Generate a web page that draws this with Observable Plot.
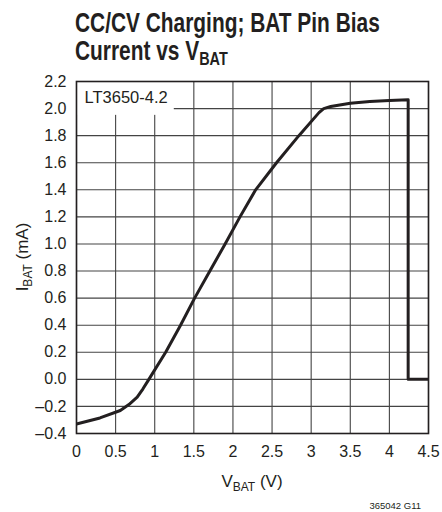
<!DOCTYPE html>
<html><head><meta charset="utf-8">
<script src="https://cdn.jsdelivr.net/npm/d3@7"></script>
<script src="https://cdn.jsdelivr.net/npm/@observablehq/plot@0.6"></script>
<style>body{margin:0;background:#fff} #chart{position:relative;width:442px;height:512px}</style>
</head><body><div id="chart"></div>
<script>
const xTicks = [0, 0.5, 1, 1.5, 2, 2.5, 3, 3.5, 4, 4.5];
const yTicks = [-0.4, -0.2, 0, 0.2, 0.4, 0.6, 0.8, 1.0, 1.2, 1.4, 1.6, 1.8, 2.0, 2.2];
const vbat = [0, 0.3, 0.56, 0.67, 0.776, 0.85, 0.925, 1.14, 1.33, 1.51, 1.705, 1.90, 2.09, 2.29, 2.557, 2.843, 3.10, 3.16, 3.25, 3.5, 3.75, 4.0, 4.24, 4.24, 4.5];
const ibat = [-0.33, -0.285, -0.23, -0.186, -0.132, -0.07, 0.0, 0.2, 0.4, 0.6, 0.8, 1.0, 1.2, 1.4, 1.6, 1.8, 1.97, 2.0, 2.015, 2.04, 2.052, 2.06, 2.065, 0.0, 0.0];
const partLabel = "LT3650-4.2";
const labelBoxX = [0, 1.25];
const labelBoxY = [1.95, 2.2];
const titleLine1 = "CC/CV Charging; BAT Pin Bias";
const titleLine2 = ["Current vs V", "BAT"];
const xLabel = ["V", "BAT", " (V)"];
const yLabel = ["I", "BAT", " (mA)"];
const caption = "365042 G11";

const data = vbat.map((v, k) => ({v, i: ibat[k]}));
const FONT = '"Liberation Sans", Arial, sans-serif';
const INK = "#231f20";
const fmtY = d => (d < 0 ? "\u2013" : "") + Math.abs(d).toFixed(1);
const fmtX = d => String(d);

const plot = Plot.plot({
  width: 442, height: 512,
  marginTop: 81, marginBottom: 79, marginLeft: 76, marginRight: 14,
  style: {fontFamily: FONT, fontSize: "16px", color: INK, background: "#fff"},
  x: {domain: [0, 4.5]},
  y: {domain: [-0.4, 2.2]},
  marks: [
    Plot.gridX(xTicks, {stroke: "#444", strokeOpacity: 1, strokeWidth: 1.1}),
    Plot.gridY(yTicks, {stroke: "#444", strokeOpacity: 1, strokeWidth: 1.1}),
    Plot.rect([0], {x1: () => labelBoxX[0], x2: () => labelBoxX[1], y1: () => labelBoxY[0], y2: () => labelBoxY[1], fill: "white"}),
    Plot.text([partLabel], {frameAnchor: "top-left", text: d => d, dx: 8, dy: 10, lineAnchor: "top", textAnchor: "start", fontSize: 16.5, fill: INK}),
    Plot.frame({stroke: INK, strokeWidth: 1.6}),
    Plot.axisX(xTicks, {tickSize: 0, tickPadding: 12, tickFormat: fmtX, label: null, fontSize: 16, fill: INK}),
    Plot.axisY(yTicks, {tickSize: 0, tickPadding: 10, tickFormat: fmtY, label: null, fontSize: 16, fill: INK}),
    Plot.line(data, {x: "v", y: "i", stroke: INK, strokeWidth: 3, strokeLinejoin: "round", strokeLinecap: "butt"})
  ]
});
document.getElementById("chart").appendChild(plot);

const svg = d3.select(plot);
// Title
const t1 = svg.append("text").attr("transform", "translate(75,32) scale(0.76,1)")
  .attr("text-anchor", "start")
  .attr("font-family", FONT).attr("font-weight", "bold").attr("font-size", 27.5).attr("fill", INK)
  .text(titleLine1);
const t2 = svg.append("text").attr("transform", "translate(75,60) scale(0.76,1)")
  .attr("text-anchor", "start")
  .attr("font-family", FONT).attr("font-weight", "bold").attr("font-size", 27.5).attr("fill", INK);
t2.append("tspan").text(titleLine2[0]);
t2.append("tspan").attr("font-size", 19).attr("dy", 5).text(titleLine2[1]);

// X axis label
const xl = svg.append("text").attr("x", 252).attr("y", 487).attr("text-anchor", "middle")
  .attr("font-family", FONT).attr("font-size", 17).attr("fill", INK);
xl.append("tspan").text(xLabel[0]);
xl.append("tspan").attr("font-size", 12).attr("dy", 4).text(xLabel[1]);
xl.append("tspan").attr("dy", -4).text(xLabel[2]);

// Y axis label
const yl = svg.append("text").attr("transform", "translate(28,257) rotate(-90)").attr("text-anchor", "middle")
  .attr("font-family", FONT).attr("font-size", 17).attr("fill", INK);
yl.append("tspan").text(yLabel[0]);
yl.append("tspan").attr("font-size", 12).attr("dy", 4).text(yLabel[1]);
yl.append("tspan").attr("dy", -4).text(yLabel[2]);

// Caption
svg.append("text").attr("x", 421).attr("y", 509).attr("text-anchor", "end")
  .attr("font-family", FONT).attr("font-size", 9.5).attr("fill", INK).text(caption);
</script>
</body></html>
